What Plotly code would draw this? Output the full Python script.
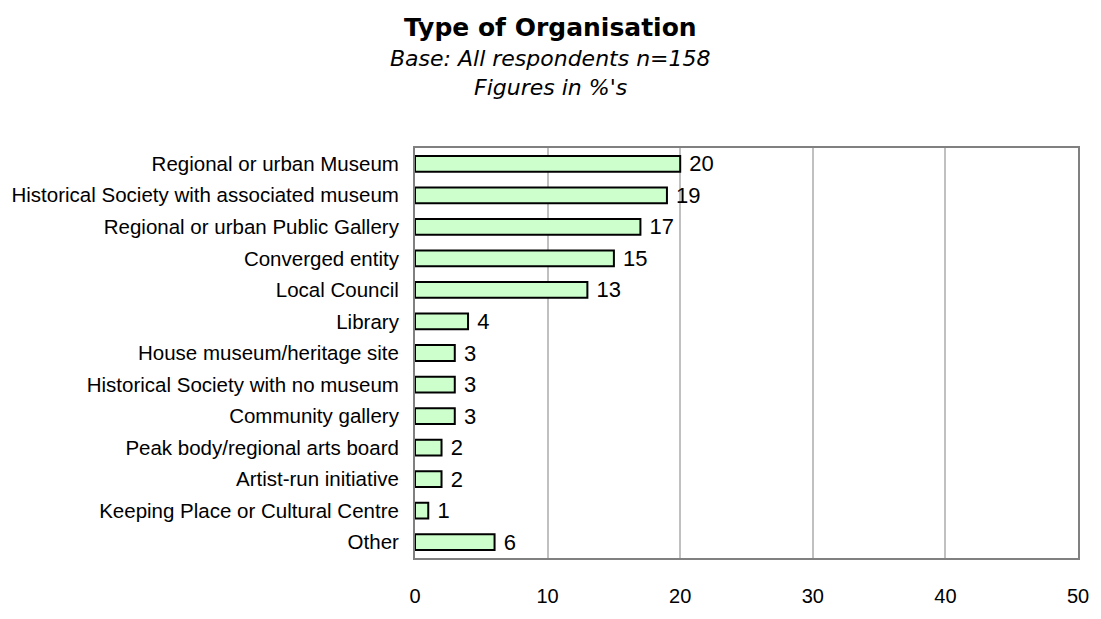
import plotly.graph_objects as go

categories = [
    "Regional or urban Museum",
    "Historical Society with associated museum",
    "Regional or urban Public Gallery",
    "Converged entity",
    "Local Council",
    "Library",
    "House museum/heritage site",
    "Historical Society with no museum",
    "Community gallery",
    "Peak body/regional arts board",
    "Artist-run initiative",
    "Keeping Place or Cultural Centre",
    "Other",
]
values = [20, 19, 17, 15, 13, 4, 3, 3, 3, 2, 2, 1, 6]
x_ticks = [0, 10, 20, 30, 40, 50]

W, H = 1101, 619
M_L, M_R, M_T, M_B = 412, 15, 148, 44

fig = go.Figure(
    go.Bar(
        x=values,
        y=categories,
        orientation="h",
        marker=dict(color="#ccffcc", line=dict(color="#000000", width=2)),
        texttemplate=" %{x}",
        textposition="outside",
        constraintext="none",
        textfont=dict(family="Liberation Sans, Arial", size=22, color="#000000"),
        cliponaxis=False,
        width=0.5,
    )
)

fig.update_layout(
    width=W,
    height=H,
    margin=dict(l=M_L, r=M_R, t=M_T, b=M_B),
    paper_bgcolor="#ffffff",
    plot_bgcolor="#ffffff",
    showlegend=False,
)

# Title block: bold heading plus two italic sub-lines (pixel rows from the top)
plot_w = W - M_L - M_R
plot_h = H - M_T - M_B
title_lines = [
    ("<b>Type of Organisation</b>", 25, 22),
    ("<i>Base: All respondents n=158</i>", 22, 55),
    ("<i>Figures in %'s</i>", 22, 85),
]
for txt, size, ypx in title_lines:
    fig.add_annotation(
        text=txt,
        xref="paper", yref="paper",
        x=(550 - M_L) / plot_w,
        y=1 + (M_T - ypx) / plot_h,
        xanchor="center", yanchor="middle",
        showarrow=False,
        font=dict(family="DejaVu Sans, Verdana", size=size, color="#000000"),
    )

fig.update_xaxes(
    range=[0, 50],
    tickvals=x_ticks,
    showgrid=True,
    gridcolor="#c0c0c0",
    gridwidth=2,
    zeroline=False,
    showline=True,
    mirror=True,
    linecolor="#808080",
    linewidth=2,
    ticks="",
    ticklabelstandoff=19,
    tickfont=dict(family="Liberation Sans, Arial", size=20, color="#000000"),
)
fig.update_yaxes(
    categoryorder="array",
    categoryarray=categories[::-1],
    showgrid=False,
    showline=True,
    mirror=True,
    linecolor="#808080",
    linewidth=2,
    ticks="",
    ticklabelstandoff=10,
    tickfont=dict(family="Liberation Sans, Arial", size=20.5, color="#000000"),
)

fig.write_html("out.html")
